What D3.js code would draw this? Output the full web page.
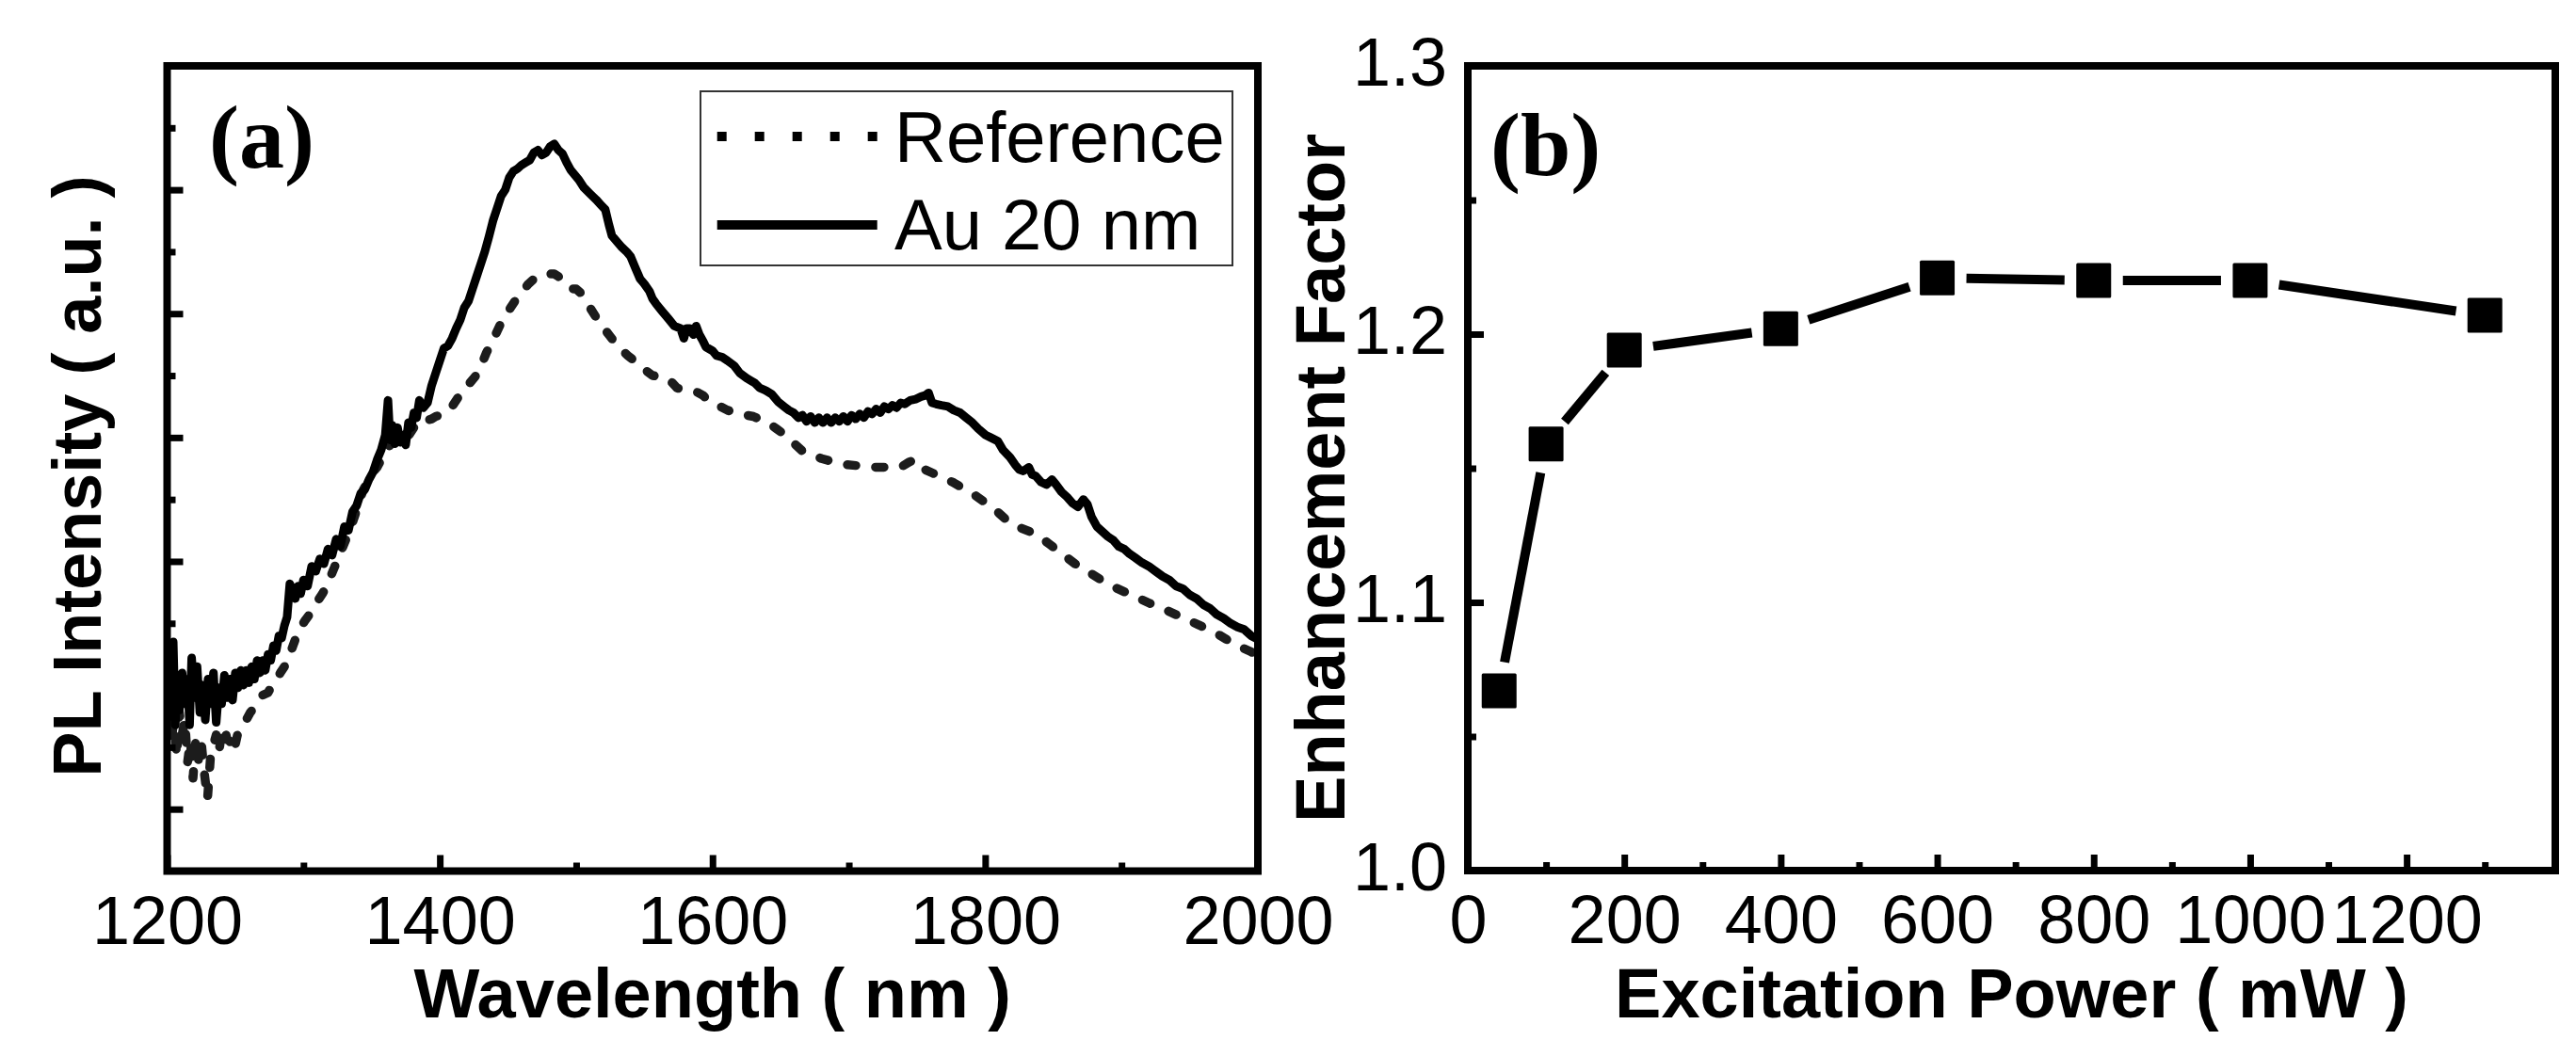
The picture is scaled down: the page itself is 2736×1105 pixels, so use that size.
<!DOCTYPE html>
<html><head><meta charset="utf-8">
<script src="https://cdn.jsdelivr.net/npm/d3@7"></script>
<style>body{margin:0;background:#fff}svg{display:block}</style>
</head><body>
<svg id="chart" width="2736" height="1105"></svg>
<script>
// ---------- Panel (a): PL spectra ----------
const auWavelength = [1200,1201.5,1203,1204.5,1206,1207.5,1209,1211,1213,1215,1216.5,1218,1220,1222,1224,1226,1228,1230,1232,1234,1236,1238,1240,1242,1244,1246,1248,1250,1252,1254,1256,1258,1260,1262,1264,1266,1268,1270,1272,1274,1276,1278,1280,1282,1284,1286,1288,1290,1292,1294,1296,1298,1300,1303,1306,1309,1312,1315,1318,1321,1324,1327,1330,1333,1336,1339,1342,1345,1348,1351,1354,1357,1360,1362,1363.5,1365,1367,1369,1371,1373,1375,1377,1379,1381,1383,1385,1388,1391,1394,1397,1400,1403,1406,1409,1412,1415,1418,1421,1424,1427,1430,1433,1436,1439,1442,1445,1448,1451,1454,1457,1460,1463,1466,1469,1472,1475,1478,1481,1484,1487,1490,1493,1496,1499,1502,1505.5,1510,1514.7,1518,1521.4,1524,1526.2,1530,1533.1,1537,1540,1543,1546.9,1550,1553.8,1556,1558.6,1563,1567.6,1572,1576.6,1579,1581,1583.5,1586,1588,1590.4,1593,1595.2,1600,1603,1606.9,1611,1615.9,1620,1624.9,1628,1631,1634.6,1639,1643.5,1648,1652.5,1656,1659.4,1663,1666,1669,1672,1675,1678,1681,1684,1687,1690,1693,1696,1699,1702,1705,1708,1711,1714,1717,1720,1723,1726,1729,1732,1735,1738,1741,1745,1749,1753,1756,1758.5,1761,1764,1768,1772.7,1777,1781.6,1786,1790.6,1795,1800.3,1804,1809.3,1813,1818.2,1822,1825.1,1828,1832,1834.5,1837,1841,1845,1849,1852,1856,1860,1864,1868,1872,1875,1878,1882,1886,1890,1894,1898,1902,1906,1910,1915,1920,1925,1930,1935,1940,1945,1950,1955,1960,1965,1970,1975,1980,1985,1990,1995,2000];
const auIntensity = [0.95,1.30,0.75,1.35,0.68,1.05,0.80,1.10,0.85,1.05,0.68,1.22,0.90,1.15,0.78,1.00,0.72,1.05,0.85,1.10,0.70,0.98,0.85,1.08,0.90,1.05,0.88,1.10,0.98,1.12,1.00,1.12,1.02,1.15,1.05,1.20,1.10,1.20,1.12,1.25,1.20,1.32,1.28,1.40,1.38,1.48,1.55,1.82,1.75,1.70,1.80,1.74,1.85,1.80,1.96,1.92,2.02,1.98,2.10,2.05,2.18,2.12,2.28,2.25,2.40,2.45,2.55,2.58,2.66,2.72,2.82,2.90,3.02,3.30,2.98,3.10,2.95,3.08,2.96,3.02,2.94,3.12,3.08,3.20,3.16,3.30,3.24,3.28,3.42,3.52,3.62,3.72,3.74,3.80,3.88,3.95,4.05,4.10,4.20,4.30,4.40,4.50,4.62,4.75,4.85,4.95,5.00,5.10,5.15,5.17,5.20,5.22,5.24,5.30,5.32,5.28,5.30,5.35,5.37,5.32,5.29,5.22,5.16,5.12,5.08,5.02,4.97,4.92,4.88,4.84,4.72,4.63,4.58,4.54,4.50,4.46,4.38,4.28,4.24,4.18,4.12,4.08,4.02,3.96,3.90,3.88,3.80,3.88,3.88,3.83,3.90,3.83,3.78,3.73,3.70,3.66,3.65,3.62,3.58,3.52,3.48,3.46,3.44,3.40,3.38,3.35,3.29,3.25,3.22,3.20,3.16,3.18,3.13,3.17,3.12,3.16,3.12,3.16,3.12,3.16,3.13,3.17,3.13,3.18,3.15,3.19,3.16,3.21,3.19,3.23,3.20,3.25,3.23,3.26,3.24,3.28,3.27,3.30,3.31,3.33,3.34,3.36,3.28,3.27,3.26,3.25,3.22,3.20,3.16,3.12,3.07,3.02,3.00,2.97,2.90,2.84,2.78,2.74,2.73,2.76,2.70,2.69,2.64,2.62,2.66,2.62,2.56,2.52,2.47,2.44,2.50,2.46,2.36,2.28,2.24,2.20,2.17,2.12,2.10,2.06,2.03,1.99,1.96,1.92,1.88,1.85,1.80,1.78,1.73,1.70,1.65,1.62,1.57,1.54,1.50,1.47,1.45,1.40,1.37];

const refWavelength = [1200,1202,1203.5,1205,1207,1209,1211,1213,1215,1217,1219,1221,1223,1225,1227,1229.6,1232,1234,1236,1238,1240,1242,1244,1246,1248,1250,1252,1255,1258,1261,1264,1267,1270,1274,1277,1280,1283,1286,1289,1292,1295,1298,1301,1305,1308,1311,1314,1317,1320,1323,1326,1329,1332,1335,1338,1341,1344,1348,1351,1354,1357,1360,1363,1366,1369,1372,1375,1378,1381,1385,1388,1391,1394,1397,1400,1403,1406,1409,1412,1415,1418,1422,1425,1428,1431,1434,1437,1440,1443,1446,1449,1452,1455,1459,1462,1465,1468,1471,1474,1477,1480,1484,1487,1490,1493,1496,1500,1505,1510,1517,1524,1531,1538,1545,1550,1556,1562,1568,1574,1581,1588,1593,1597,1604,1611,1620,1630,1636,1642,1647,1652,1659,1666,1673,1680,1690,1699,1709,1719,1728,1738,1744,1748,1752,1756,1762,1768,1776,1784,1793,1802,1810,1818,1826,1835,1841,1847,1854,1860,1866,1872,1878,1885,1891,1897,1903,1909,1915,1921,1928,1934,1940,1946,1952,1958,1965,1971,1977,1983,1989,1995,2000];
const refIntensity = [0.61,0.90,0.55,0.80,0.42,0.78,0.60,0.72,0.38,0.55,0.25,0.56,0.40,0.55,0.32,0.08,0.45,0.52,0.60,0.46,0.62,0.66,0.56,0.55,0.46,0.52,0.62,0.67,0.72,0.78,0.82,0.88,0.92,0.94,1.00,1.04,1.10,1.15,1.22,1.31,1.40,1.47,1.52,1.58,1.64,1.69,1.74,1.80,1.88,1.96,2.04,2.12,2.20,2.28,2.38,2.49,2.58,2.66,2.72,2.76,2.82,2.87,2.93,2.98,2.95,2.95,2.99,3.03,3.08,3.14,3.14,3.14,3.15,3.17,3.18,3.19,3.22,3.25,3.30,3.35,3.40,3.44,3.48,3.52,3.60,3.68,3.75,3.81,3.88,3.95,4.00,4.05,4.10,4.16,4.20,4.24,4.27,4.30,4.31,4.31,4.32,4.32,4.30,4.27,4.23,4.20,4.20,4.15,4.05,3.93,3.83,3.73,3.66,3.60,3.55,3.50,3.49,3.47,3.40,3.38,3.37,3.34,3.30,3.26,3.22,3.19,3.17,3.14,3.11,3.07,3.03,2.96,2.89,2.86,2.83,2.80,2.78,2.77,2.76,2.76,2.76,2.80,2.82,2.76,2.74,2.71,2.68,2.64,2.59,2.53,2.46,2.39,2.31,2.27,2.23,2.19,2.14,2.08,2.03,1.98,1.94,1.90,1.85,1.81,1.78,1.75,1.72,1.69,1.66,1.63,1.60,1.57,1.54,1.51,1.48,1.44,1.41,1.37,1.33,1.30,1.27,1.24];

const waveMajorTicks = [1200,1400,1600,1800,2000];
const waveMinorTicks = [1300,1500,1700,1900];
const intensityMajorTicks = [0,1,2,3,4,5];
const intensityMinorTicks = [0.5,1.5,2.5,3.5,4.5,5.5];
const legendLabels = ["Reference","Au 20 nm"];

// ---------- Panel (b): enhancement factor ----------
const powerValues = [40,100,200,400,600,800,1000,1300];
const enhancementValues = [1.067,1.159,1.194,1.202,1.221,1.220,1.220,1.207];
const powerMajorTicks = [0,200,400,600,800,1000,1200];
const powerMinorTicks = [100,300,500,700,900,1100,1300];
const enhMajorTicks = [1.0,1.1,1.2,1.3];
const enhMinorTicks = [1.05,1.15,1.25];

const svg = d3.select("#chart");
const SANS = "'Liberation Sans', Arial, sans-serif";
const SERIF = "'Liberation Serif', 'Times New Roman', serif";
const FRAME_W = 8, TICK_W = 7, MAJ = 17, MIN = 9;

function drawAxes(g, x, y, xMaj, xMin, yMaj, yMin, xFmt, yFmt, showYLabels) {
  const [x0, x1] = x.range(), [y0, y1] = y.range();
  const bMin = d3.axisBottom(x).tickValues(xMin).tickSize(-MIN).tickFormat("");
  const bMaj = d3.axisBottom(x).tickValues(xMaj).tickSize(-MAJ).tickPadding(26).tickFormat(xFmt);
  [bMin, bMaj].forEach(ax => {
    const a = g.append("g").attr("transform", `translate(0,${y0})`).call(ax);
    a.select(".domain").remove();
    a.selectAll("line").attr("stroke", "#000").attr("stroke-width", TICK_W);
    a.selectAll("text").attr("font-family", SANS).attr("font-size", 72).attr("fill", "#000");
  });
  const lMin = d3.axisLeft(y).tickValues(yMin).tickSize(-MIN).tickFormat("");
  const lMaj = d3.axisLeft(y).tickValues(yMaj).tickSize(-MAJ).tickPadding(22)
    .tickFormat(showYLabels ? yFmt : "");
  [lMin, lMaj].forEach(ax => {
    const a = g.append("g").attr("transform", `translate(${x0},0)`).call(ax);
    a.select(".domain").remove();
    a.selectAll("line").attr("stroke", "#000").attr("stroke-width", TICK_W);
    a.selectAll("text").attr("font-family", SANS).attr("font-size", 72).attr("fill", "#000").attr("dy", "0.28em");
  });
  g.append("rect").attr("x", x0).attr("y", y1).attr("width", x1 - x0).attr("height", y0 - y1)
    .attr("fill", "none").attr("stroke", "#000").attr("stroke-width", FRAME_W);
}

// ----- Panel (a)
const xa = d3.scaleLinear().domain([1200, 2000]).range([177.5, 1336]);
const ya = d3.scaleLinear().domain([-0.5, 6.0]).range([925.5, 70]);
const ga = svg.append("g");
ga.append("clipPath").attr("id", "clipA").append("rect")
  .attr("x", 177.5).attr("y", 70).attr("width", 1336 - 177.5).attr("height", 925.5 - 70);

const lineA = d3.line().x(d => xa(d[0])).y(d => ya(d[1]));
const refData = refWavelength.map((w, i) => [w, refIntensity[i]]);
const auData = auWavelength.map((w, i) => [w, auIntensity[i]]);
ga.append("path").datum(refData).attr("d", lineA).attr("clip-path", "url(#clipA)")
  .attr("fill", "none").attr("stroke", "#1c1c1c").attr("stroke-width", 9.5)
  .attr("stroke-linecap", "round").attr("stroke-linejoin", "round").attr("stroke-dasharray", "9,21");
ga.append("path").datum(auData).attr("d", lineA).attr("clip-path", "url(#clipA)")
  .attr("fill", "none").attr("stroke", "#000").attr("stroke-width", 9)
  .attr("stroke-linejoin", "round");

drawAxes(ga, xa, ya, waveMajorTicks, waveMinorTicks, intensityMajorTicks, intensityMinorTicks,
  d3.format("d"), null, false);

// legend
const lg = ga.append("g");
lg.append("rect").attr("x", 744).attr("y", 97).attr("width", 565).attr("height", 185)
  .attr("fill", "#fff").attr("stroke", "#333").attr("stroke-width", 2);
lg.append("line").attr("x1", 761.7).attr("x2", 931.7).attr("y1", 145).attr("y2", 145)
  .attr("stroke", "#000").attr("stroke-width", 10).attr("stroke-dasharray", "10,30");
lg.append("line").attr("x1", 761.7).attr("x2", 931.7).attr("y1", 239).attr("y2", 239)
  .attr("stroke", "#000").attr("stroke-width", 10);
lg.selectAll("text.lab").data(legendLabels).enter().append("text")
  .attr("x", 950).attr("y", (d, i) => i === 0 ? 172 : 265)
  .attr("font-family", SANS).attr("font-size", 76).attr("fill", "#000").text(d => d);

ga.append("text").attr("x", 222).attr("y", 178).attr("font-family", SERIF).attr("font-weight", "bold")
  .attr("font-size", 96).text("(a)");
ga.append("text").attr("transform", "translate(107,506) rotate(-90)").attr("text-anchor", "middle")
  .attr("font-family", SANS).attr("font-weight", "bold").attr("font-size", 72).text("PL Intensity ( a.u. )");
ga.append("text").attr("x", (177.5 + 1336) / 2).attr("y", 1081).attr("text-anchor", "middle")
  .attr("font-family", SANS).attr("font-weight", "bold").attr("font-size", 74).text("Wavelength ( nm )");

// ----- Panel (b)
const xb = d3.scaleLinear().domain([0, 1390]).range([1559, 2714]);
const yb = d3.scaleLinear().domain([1.0, 1.3]).range([925, 70]);
const gb = svg.append("g");
drawAxes(gb, xb, yb, powerMajorTicks, powerMinorTicks, enhMajorTicks, enhMinorTicks,
  d3.format("d"), d3.format(".1f"), true);

const pts = powerValues.map((p, i) => [xb(p), yb(enhancementValues[i])]);
const GAP = 31;
const segs = d3.pairs(pts).map(([a, b]) => {
  const dx = b[0] - a[0], dy = b[1] - a[1], L = Math.hypot(dx, dy);
  const ux = dx / L, uy = dy / L;
  return [a[0] + ux * GAP, a[1] + uy * GAP, b[0] - ux * GAP, b[1] - uy * GAP];
});
gb.selectAll("line.seg").data(segs).enter().append("line")
  .attr("x1", d => d[0]).attr("y1", d => d[1]).attr("x2", d => d[2]).attr("y2", d => d[3])
  .attr("stroke", "#000").attr("stroke-width", 10);
const SQ = 37;
gb.selectAll("rect.pt").data(pts).enter().append("rect")
  .attr("x", d => d[0] - SQ / 2).attr("y", d => d[1] - SQ / 2).attr("width", SQ).attr("height", SQ)
  .attr("rx", 1.5).attr("fill", "#000");

gb.append("text").attr("x", 1583).attr("y", 186).attr("font-family", SERIF).attr("font-weight", "bold")
  .attr("font-size", 96).text("(b)");
gb.append("text").attr("transform", "translate(1428,508) rotate(-90)").attr("text-anchor", "middle")
  .attr("font-family", SANS).attr("font-weight", "bold").attr("font-size", 74).text("Enhancement Factor");
gb.append("text").attr("x", (1559 + 2714) / 2).attr("y", 1081).attr("text-anchor", "middle")
  .attr("font-family", SANS).attr("font-weight", "bold").attr("font-size", 74).text("Excitation Power ( mW )");
</script>
</body></html>
